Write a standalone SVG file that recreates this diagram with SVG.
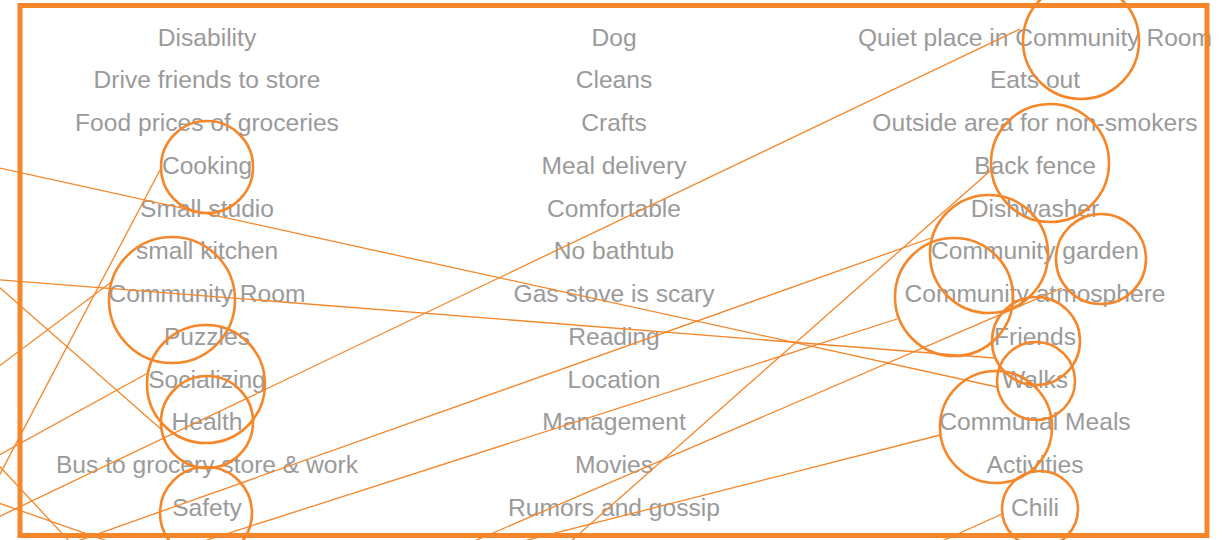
<svg xmlns="http://www.w3.org/2000/svg" width="1226" height="540" viewBox="0 0 1226 540">
<style>
text{font-family:"Liberation Sans",Arial,sans-serif;font-size:24.6px;fill:#9a9a9a;text-anchor:middle}
.c{fill:none;stroke:#F5862A;stroke-width:2.6}
.l{fill:none;stroke:#F5862A;stroke-width:1.3}
.frame{fill:none;stroke:#F5862A;stroke-width:5}
</style>
<rect width="1226" height="540" fill="#ffffff"/>
<g id="labels-left">
<text x="207" y="45.5">Disability</text>
<text x="207" y="88.2">Drive friends to store</text>
<text x="207" y="131">Food prices of groceries</text>
<text x="207" y="173.7">Cooking</text>
<text x="207" y="216.5">Small studio</text>
<text x="207" y="259.2">small kitchen</text>
<text x="207" y="302">Community Room</text>
<text x="207" y="344.7">Puzzles</text>
<text x="207" y="387.5">Socializing</text>
<text x="207" y="430.2">Health</text>
<text x="207" y="473">Bus to grocery store &amp; work</text>
<text x="207" y="515.7">Safety</text>
</g>
<g id="labels-middle">
<text x="614" y="45.5">Dog</text>
<text x="614" y="88.2">Cleans</text>
<text x="614" y="131">Crafts</text>
<text x="614" y="173.7">Meal delivery</text>
<text x="614" y="216.5">Comfortable</text>
<text x="614" y="259.2">No bathtub</text>
<text x="614" y="302">Gas stove is scary</text>
<text x="614" y="344.7">Reading</text>
<text x="614" y="387.5">Location</text>
<text x="614" y="430.2">Management</text>
<text x="614" y="473">Movies</text>
<text x="614" y="515.7">Rumors and gossip</text>
</g>
<g id="labels-right">
<text x="1035" y="45.5">Quiet place in Community Room</text>
<text x="1035" y="88.2">Eats out</text>
<text x="1035" y="131">Outside area for non-smokers</text>
<text x="1035" y="173.7">Back fence</text>
<text x="1035" y="216.5">Dishwasher</text>
<text x="1035" y="259.2">Community garden</text>
<text x="1035" y="302">Community atmosphere</text>
<text x="1035" y="344.7">Friends</text>
<text x="1035" y="387.5">Walks</text>
<text x="1035" y="430.2">Communal Meals</text>
<text x="1035" y="473">Activities</text>
<text x="1035" y="515.7">Chili</text>
</g>
<g id="connectors">
<line class="l" x1="1020" y1="29" x2="-10" y2="521"/>
<line class="l" x1="990" y1="171" x2="570" y2="542"/>
<line class="l" x1="931" y1="238" x2="75" y2="542"/>
<line class="l" x1="897" y1="319" x2="201" y2="542"/>
<line class="l" x1="-10" y1="166" x2="997" y2="387"/>
<line class="l" x1="-10" y1="279" x2="994" y2="358"/>
<line class="l" x1="1062" y1="288" x2="472" y2="542"/>
<line class="l" x1="940" y1="435" x2="520" y2="542"/>
<line class="l" x1="1002" y1="514" x2="940" y2="542"/>
<line class="l" x1="160" y1="170" x2="-10" y2="493"/>
<line class="l" x1="110" y1="283" x2="-10" y2="373"/>
<line class="l" x1="162" y1="430" x2="-10" y2="279"/>
<line class="l" x1="148" y1="373" x2="-10" y2="460"/>
<line class="l" x1="-10" y1="456" x2="70" y2="542"/>
<line class="l" x1="-10" y1="500" x2="110" y2="542"/>
</g>
<g id="circle-cooking"><circle class="c" cx="207" cy="167" r="46"/></g>
<g id="circle-community-room"><circle class="c" cx="172" cy="300" r="63"/></g>
<g id="circle-socializing"><circle class="c" cx="206" cy="384" r="59"/></g>
<g id="circle-health"><circle class="c" cx="207" cy="422" r="46"/></g>
<g id="circle-safety"><circle class="c" cx="206" cy="513" r="46"/></g>
<g id="circle-quiet-place"><circle class="c" cx="1081" cy="41" r="58"/></g>
<g id="circle-back-fence"><circle class="c" cx="1050" cy="163" r="59"/></g>
<g id="circle-community"><circle class="c" cx="989" cy="254" r="59"/></g>
<g id="circle-garden"><circle class="c" cx="1101" cy="259" r="45"/></g>
<g id="circle-atmosphere"><circle class="c" cx="954" cy="297" r="59"/></g>
<g id="circle-friends"><circle class="c" cx="1036" cy="341" r="44"/></g>
<g id="circle-walks"><circle class="c" cx="1036" cy="381" r="39"/></g>
<g id="circle-communal-meals"><circle class="c" cx="996" cy="427" r="56"/></g>
<g id="circle-chili"><circle class="c" cx="1040" cy="509" r="38"/></g>
<rect class="frame" x="20" y="5.5" width="1187" height="530"/>
</svg>
